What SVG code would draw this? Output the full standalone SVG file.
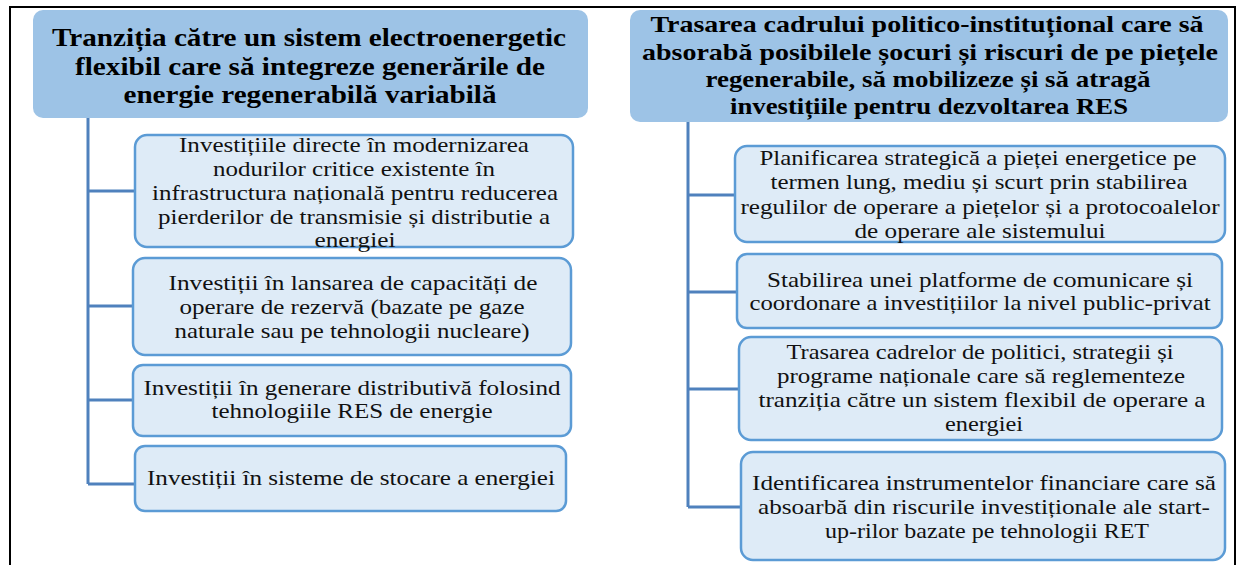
<svg xmlns="http://www.w3.org/2000/svg" width="1240" height="565" viewBox="0 0 1240 565">
<style>
.frame{fill:none;stroke:#000;stroke-width:2}
.head{fill:#9DC3E6}
.child{fill:#DEEBF7;stroke:#5B9BD5;stroke-width:2.5}
.conn{fill:none;stroke:#4F81BD;stroke-width:3}
text{font-family:'Liberation Serif','DejaVu Serif',serif;fill:#000;text-anchor:middle}
.ht{font-weight:bold;font-size:26px}
.hr{font-weight:bold;font-size:24px}
.ct{font-size:21px;fill:#111}
</style>
<rect width="1240" height="565" fill="#fff"/>
<path class="frame" d="M10 565 V7 H1235 V565"/>
<g id="connectors">
<path class="conn" d="M88 118 V484 M88 191 H135 M88 306 H133 M88 400 H133 M88 484 H135"/>
<path class="conn" d="M688 122 V507 M688 195 H735 M688 292 H737 M688 389 H739 M688 507 H741"/>
</g>
<g id="head-left">
<rect class="head" x="33" y="10" width="555" height="108" rx="10"/>
<text class="ht" x="309" y="46" textLength="514" lengthAdjust="spacingAndGlyphs">Tranziția către un sistem electroenergetic</text>
<text class="ht" x="310" y="75" textLength="470" lengthAdjust="spacingAndGlyphs">flexibil care să integreze generările de</text>
<text class="ht" x="310" y="103" textLength="373" lengthAdjust="spacingAndGlyphs">energie regenerabilă variabilă</text>
</g>
<g id="head-right">
<rect class="head" x="630" y="10" width="598" height="112" rx="10"/>
<text class="hr" x="927" y="32" textLength="553" lengthAdjust="spacingAndGlyphs">Trasarea cadrului politico-instituțional care să</text>
<text class="hr" x="930" y="60" textLength="576" lengthAdjust="spacingAndGlyphs">absorabă posibilele șocuri și riscuri de pe piețele</text>
<text class="hr" x="928" y="87" textLength="445" lengthAdjust="spacingAndGlyphs">regenerabile, să mobilizeze și să atragă</text>
<text class="hr" x="929" y="114" textLength="398" lengthAdjust="spacingAndGlyphs">investițiile pentru dezvoltarea RES</text>
</g>
<g id="left-1">
<rect class="child" x="135" y="135" width="438" height="112" rx="12"/>
<text class="ct" x="354" y="152" textLength="350" lengthAdjust="spacingAndGlyphs">Investițiile directe în modernizarea</text>
<text class="ct" x="354" y="176" textLength="282" lengthAdjust="spacingAndGlyphs">nodurilor critice existente în</text>
<text class="ct" x="355" y="200" textLength="406" lengthAdjust="spacingAndGlyphs">infrastructura națională pentru reducerea</text>
<text class="ct" x="354" y="224" textLength="392" lengthAdjust="spacingAndGlyphs">pierderilor de transmisie și distributie a</text>
<text class="ct" x="355" y="247" textLength="81" lengthAdjust="spacingAndGlyphs">energiei</text>
</g>
<g id="left-2">
<rect class="child" x="133" y="258" width="438" height="97" rx="12"/>
<text class="ct" x="353" y="290" textLength="369" lengthAdjust="spacingAndGlyphs">Investiții în lansarea de capacități de</text>
<text class="ct" x="352" y="314" textLength="345" lengthAdjust="spacingAndGlyphs">operare de rezervă (bazate pe gaze</text>
<text class="ct" x="352" y="338" textLength="355" lengthAdjust="spacingAndGlyphs">naturale sau pe tehnologii nucleare)</text>
</g>
<g id="left-3">
<rect class="child" x="133" y="365" width="438" height="71" rx="10"/>
<text class="ct" x="352" y="395" textLength="417" lengthAdjust="spacingAndGlyphs">Investiții în generare distributivă folosind</text>
<text class="ct" x="352" y="418" textLength="281" lengthAdjust="spacingAndGlyphs">tehnologiile RES de energie</text>
</g>
<g id="left-4">
<rect class="child" x="135" y="446" width="431" height="65" rx="10"/>
<text class="ct" x="351" y="485" textLength="408" lengthAdjust="spacingAndGlyphs">Investiții în sisteme de stocare a energiei</text>
</g>
<g id="right-1">
<rect class="child" x="735" y="146" width="490" height="96" rx="12"/>
<text class="ct" x="978" y="165" textLength="437" lengthAdjust="spacingAndGlyphs">Planificarea strategică a pieței energetice pe</text>
<text class="ct" x="979" y="189" textLength="417" lengthAdjust="spacingAndGlyphs">termen lung, mediu și scurt prin stabilirea</text>
<text class="ct" x="980" y="214" textLength="479" lengthAdjust="spacingAndGlyphs">regulilor de operare a piețelor și a protocoalelor</text>
<text class="ct" x="980" y="238" textLength="251" lengthAdjust="spacingAndGlyphs">de operare ale sistemului</text>
</g>
<g id="right-2">
<rect class="child" x="737" y="254" width="485" height="74" rx="10"/>
<text class="ct" x="980" y="287" textLength="426" lengthAdjust="spacingAndGlyphs">Stabilirea unei platforme de comunicare și</text>
<text class="ct" x="980" y="310" textLength="461" lengthAdjust="spacingAndGlyphs">coordonare a investițiilor la nivel public-privat</text>
</g>
<g id="right-3">
<rect class="child" x="739" y="337" width="483" height="103" rx="12"/>
<text class="ct" x="980" y="359" textLength="387" lengthAdjust="spacingAndGlyphs">Trasarea cadrelor de politici, strategii și</text>
<text class="ct" x="981" y="383" textLength="408" lengthAdjust="spacingAndGlyphs">programe naționale care să reglementeze</text>
<text class="ct" x="982" y="407" textLength="447" lengthAdjust="spacingAndGlyphs">tranziția către un sistem flexibil de operare a</text>
<text class="ct" x="984" y="431" textLength="78" lengthAdjust="spacingAndGlyphs">energiei</text>
</g>
<g id="right-4">
<rect class="child" x="741" y="452" width="484" height="108" rx="12"/>
<text class="ct" x="984" y="490" textLength="464" lengthAdjust="spacingAndGlyphs">Identificarea instrumentelor financiare care să</text>
<text class="ct" x="984" y="514" textLength="452" lengthAdjust="spacingAndGlyphs">absoarbă din riscurile investiționale ale start-</text>
<text class="ct" x="987" y="538" textLength="324" lengthAdjust="spacingAndGlyphs">up-rilor bazate pe tehnologii RET</text>
</g>
</svg>
